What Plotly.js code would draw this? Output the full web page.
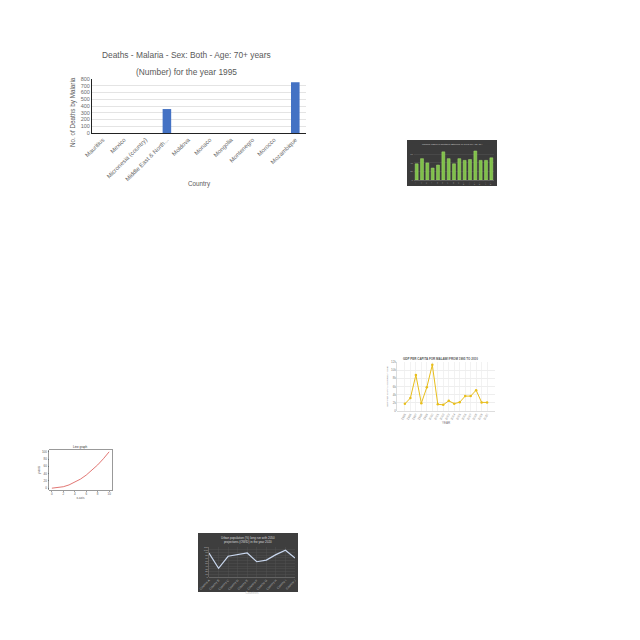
<!DOCTYPE html>
<html><head><meta charset="utf-8">
<script src="https://cdn.plot.ly/plotly-3.0.1.min.js"></script>
<style>html,body{margin:0;padding:0;background:#fff}#c{width:640px;height:640px}</style>
</head><body><div id="c"></div>
<script>
// Main chart data
const countries = ["Mauritius","Mexico","Micronesia (country)","Middle East & North...","Moldova","Monaco","Mongolia","Montenegro","Morocco","Mozambique"];
const deaths = [0,0,0,355,0,0,0,0,0,752];
const deathTicks = [0,100,200,300,400,500,600,700,800];

// Thumbnail 1: green bars (dark)
const greenCats = ["1","2","3","4","5","6","7","8","9","10","11","12","13","14","15"];
const greenVals = [38,50,40,28,35,66,50,38,50,46,48,68,46,46,52];

// Thumbnail 2: GDP per capita line (gold)
const gdpYears = ["1995","1996","1997","1998","1999","2000","2001","2002","2003","2004","2005","2006","2007","2008","2009","2010"];
const gdpVals = [1750,3170,8800,1900,5800,11300,1650,1500,2500,1800,2150,3650,3650,5100,2100,2100];

// Thumbnail 3: line graph
const lineX = [0,1,2,3,4,5,6,7,8,9,10];
const lineY = [0,1,4,9,16,25,36,49,64,81,100];

// Thumbnail 4: urban population (dark)
const urbanCats = ["Country A","Country B","Country C","Country D","Country E","Country F","Country G","Country H","Country I","Country J"];
const urbanVals = [88,32,76,82,88,56,62,82,98,70];

const W=640,H=640;
const px=v=>v/W, py=v=>1-v/H;
const grey="#595959";
const F="Liberation Sans, Arial, sans-serif";

const data=[
 {type:"bar",x:countries,y:deaths,xaxis:"x",yaxis:"y",marker:{color:"#4472c4"},width:0.4,hoverinfo:"none"},
 {type:"bar",x:greenCats,y:greenVals,xaxis:"x2",yaxis:"y2",marker:{color:"#7fc04a",line:{color:"#a6de6e",width:0.5}},width:0.55,hoverinfo:"none"},
 {type:"scatter",mode:"lines+markers",x:gdpYears,y:gdpVals,xaxis:"x3",yaxis:"y3",line:{color:"#e8be1c",width:1},marker:{color:"#e8be1c",size:2.5},hoverinfo:"none"},
 {type:"scatter",mode:"lines",x:lineX,y:lineY,xaxis:"x4",yaxis:"y4",line:{color:"#d9534f",width:0.8},hoverinfo:"none"},
 {type:"scatter",mode:"lines",x:urbanCats,y:urbanVals,xaxis:"x5",yaxis:"y5",line:{color:"#c9d7ee",width:1.2},hoverinfo:"none"}
];

const ann=(x,y,text,font)=>({xref:"paper",yref:"paper",x:px(x),y:py(y),xanchor:"center",yanchor:"middle",text:text,showarrow:false,font:font,align:"center"});

const layout={
 width:W,height:H,margin:{l:0,r:0,t:0,b:0},paper_bgcolor:"#fff",plot_bgcolor:"rgba(0,0,0,0)",
 showlegend:false,
 xaxis:{domain:[px(92),px(306)],anchor:"y",type:"category",tickangle:-45,tickfont:{size:6,color:"#6d6d6d",family:F},
   showline:true,linecolor:"#222",linewidth:1,ticks:""},
 yaxis:{domain:[py(133),py(79)],anchor:"x",range:[0,800],tickvals:deathTicks,tickfont:{size:5.5,color:"#6d6d6d",family:F},
   showline:true,linecolor:"#222",linewidth:1,gridcolor:"#d9d9d9",gridwidth:0.7,zeroline:false,ticks:""},

 xaxis2:{domain:[px(414),px(494)],anchor:"y2",type:"category",tickfont:{size:2.5,color:"#aaa",family:F},showline:true,linecolor:"#888",linewidth:0.5,ticks:""},
 yaxis2:{domain:[py(180),py(148)],anchor:"x2",range:[0,75],tickfont:{size:2.5,color:"#aaa",family:F},gridcolor:"#555",gridwidth:0.5,zeroline:false,ticks:""},

 xaxis3:{domain:[px(397),px(495)],anchor:"y3",type:"category",tickangle:-60,tickfont:{size:3,color:"#777",family:F},showline:true,linecolor:"#bbb",linewidth:0.5,ticks:"",showgrid:true,gridcolor:"#e6e6e6",gridwidth:0.5,
   title:{text:"YEAR",font:{size:3,color:"#777",family:F},standoff:2}},
 yaxis3:{domain:[py(411),py(362)],anchor:"x3",range:[0,12000],dtick:2000,tickfont:{size:3,color:"#777",family:F},showline:true,linecolor:"#bbb",linewidth:0.5,gridcolor:"#eee",zeroline:false,ticks:"",
   title:{text:"GDP PER CAPITA (CURRENT US$)",font:{size:2.5,color:"#777",family:F},standoff:2}},

 xaxis4:{domain:[px(49),px(112)],anchor:"y4",range:[-0.5,10.5],dtick:2,tickfont:{size:3,color:"#555",family:F},showline:true,mirror:true,linecolor:"#333",linewidth:0.5,showgrid:false,zeroline:false,ticks:"outside",ticklen:1,tickwidth:0.5,
   title:{text:"x-axis",font:{size:3,color:"#555",family:F},standoff:1}},
 yaxis4:{domain:[py(490),py(450)],anchor:"x4",range:[-5,105],dtick:20,tickfont:{size:3,color:"#555",family:F},showline:true,mirror:true,linecolor:"#333",linewidth:0.5,showgrid:false,zeroline:false,ticks:"outside",ticklen:1,tickwidth:0.5,
   title:{text:"y-axis",font:{size:3,color:"#555",family:F},standoff:1}},

 xaxis5:{domain:[px(209),px(295)],anchor:"y5",type:"category",tickangle:-45,tickfont:{size:3,color:"#bbb",family:F},showline:true,linecolor:"#888",linewidth:0.5,ticks:"",gridcolor:"#555",gridwidth:0.4,
   title:{text:"Countries",font:{size:3,color:"#bbb",family:F},standoff:1}},
 yaxis5:{domain:[py(577),py(547)],anchor:"x5",range:[0,110],dtick:10,tickfont:{size:2.5,color:"#bbb",family:F},showline:true,linecolor:"#888",linewidth:0.5,gridcolor:"#555",gridwidth:0.4,zeroline:false,ticks:""},

 shapes:[
  {type:"rect",xref:"paper",yref:"paper",x0:px(407),x1:px(497),y0:py(186),y1:py(140),fillcolor:"#3b3b3b",line:{width:0},layer:"below"},
  {type:"rect",xref:"paper",yref:"paper",x0:px(198),x1:px(298),y0:py(592),y1:py(533),fillcolor:"#3e3e3e",line:{width:0},layer:"below"}
 ],
 annotations:[
  ann(186,55,"Deaths - Malaria - Sex: Both - Age: 70+ years",{size:8.4,color:grey,family:F}),
  ann(186,72,"(Number) for the year 1995",{size:8.4,color:grey,family:F}),
  Object.assign(ann(73,112,"No. of Deaths by Malaria",{size:6.3,color:grey,family:F}),{textangle:-90}),
  ann(199,184,"Country",{size:6.3,color:grey,family:F}),
  ann(452,144,"Malaria cases in Northern Ethiopia in 1995 for Age 70+",{size:2.5,color:"#ccc",family:F}),
  ann(440,359,"<b>GDP PER CAPITA FOR MALAWI FROM 1995 TO 2010</b>",{size:3,color:"#555",family:F}),
  ann(80,447,"Line graph",{size:3,color:"#333",family:F}),
  ann(248,540,"Urban population (%) long run with 2050<br>projections (OWID) in the year 2020",{size:3,color:"#ddd",family:F})
 ]
};
Plotly.newPlot("c",data,layout,{staticPlot:true});
</script></body></html>
